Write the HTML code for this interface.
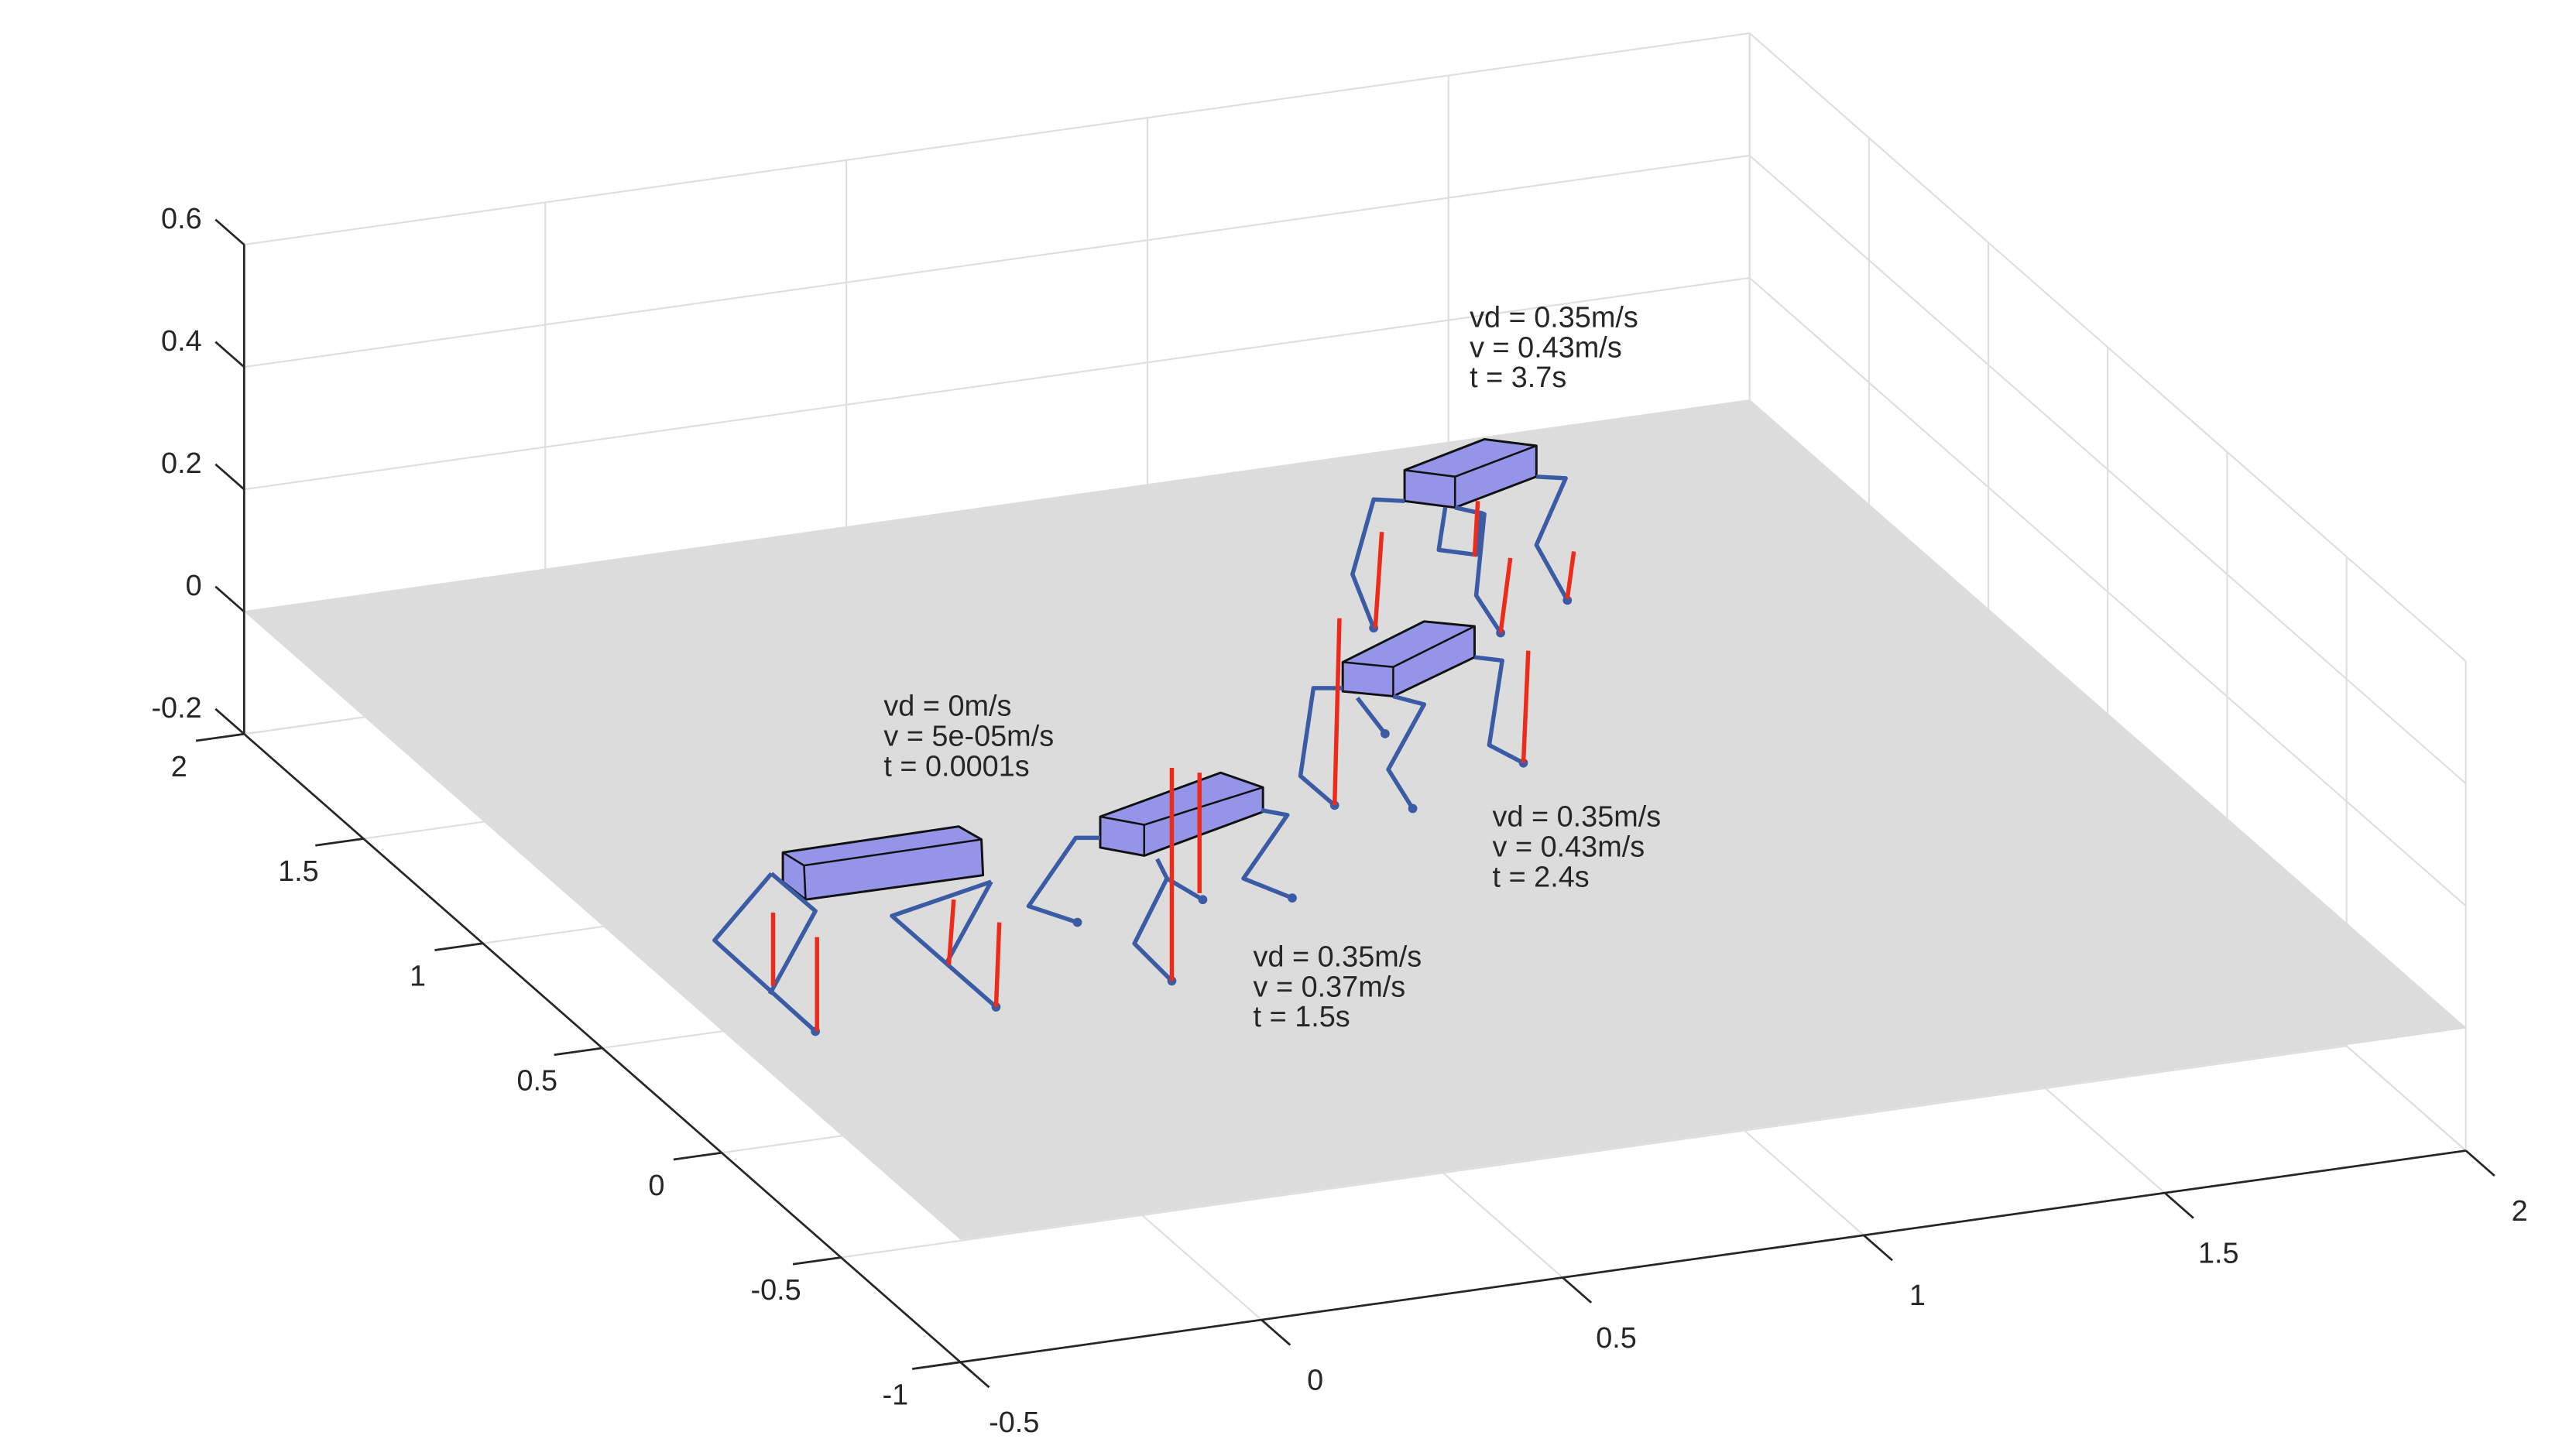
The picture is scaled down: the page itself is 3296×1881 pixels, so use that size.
<!DOCTYPE html>
<html><head><meta charset="utf-8">
<style>
html,body{margin:0;padding:0;background:#fff;}
svg{display:block;}
text{font-family:"Liberation Sans",Arial,sans-serif;fill:#262626;}
</style></head>
<body>
<svg id="chart" width="3296" height="1881" viewBox="0 0 1568 895" preserveAspectRatio="none" xmlns="http://www.w3.org/2000/svg">
<g id="grid"></g>
<polygon id="floor" fill="#dcdcdc" stroke="none"></polygon>
<g id="axes"></g>
<g id="robots"></g>
<g id="labels"></g>
</svg>
<script>
const xTicks=[-0.5,0,0.5,1,1.5,2];
const xTickLabels=["-0.5","0","0.5","1","1.5","2"];
const yTicks=[-1,-0.5,0,0.5,1,1.5,2];
const yTickLabels=["-1","-0.5","0","0.5","1","1.5","2"];
const zTicks=[-0.2,0,0.2,0.4,0.6];
const zTickLabels=["-0.2","0","0.2","0.4","0.6"];
const annotations=[
 {lines:["vd = 0m/s","v = 5e-05m/s","t = 0.0001s"],at:[543,440]},
 {lines:["vd = 0.35m/s","v = 0.37m/s","t = 1.5s"],at:[770,594]},
 {lines:["vd = 0.35m/s","v = 0.43m/s","t = 2.4s"],at:[917,508]},
 {lines:["vd = 0.35m/s","v = 0.43m/s","t = 3.7s"],at:[903,201]}
];
// robot drawings (screen-space sketches)
const robotBodies=[
 {outline:[[481,524],[589,508],[603,516],[604,538],[495,553],[481,542]],edges:[[[481,524],[494,532],[603,516]],[[494,532],[495,553]]]},
 {outline:[[676,502],[750,475],[776,484],[776,499],[703,526],[676,521]],edges:[[[676,502],[703,507],[776,484]],[[703,507],[703,526]]]},
 {outline:[[825,407],[875,382],[906,385],[906,404],[856,428],[825,425]],edges:[[[825,407],[856,410],[906,385]],[[856,410],[856,428]]]},
 {outline:[[863,289],[912,270],[944,274],[944,293],[894,312],[863,308]],edges:[[[863,289],[894,293],[944,274]],[[894,293],[894,312]]]}
];
const robotLegs=[
 [[474,537],[439,578],[501,634]],[[474,537],[501,560],[473,611]],[[609,542],[548,563],[612,619]],[[609,542],[581,593]],
 [[676,515],[661,515],[632,557],[662,567]],[[711,528],[717,540],[697,580],[720,603]],[[717,540],[739,553]],[[775,498],[791,501],[764,540],[794,552]],
 [[825,423],[807,423],[799,477],[820,495]],[[834,429],[851,451]],[[856,428],[875,433],[853,473],[868,497]],[[906,404],[923,406],[915,458],[936,469]],
 [[863,308],[844,307],[831,353],[844,386]],[[888,312],[884,338],[907,341],[910,314]],[[894,312],[912,316],[907,366],[922,389]],[[944,293],[962,294],[944,335],[963,369]]
];
const legFeet=[[501,634],[612,619],[662,567],[720,603],[739,553],[794,552],[820,495],[851,451],[868,497],[936,469],[844,386],[922,389],[963,369]];
const forceLines=[
 [[475,561],[475,606]],[[502,576],[502,634]],[[586,553],[583,593]],[[614,567],[612,619]],
 [[720,472],[720,603]],[[737,475],[737,549]],
 [[823,380],[820,495]],[[939,400],[936,469]],
 [[849,327],[845,386]],[[908,308],[906,342]],[[928,343],[922,389]],[[967,339],[963,368]]
];

const NS="http://www.w3.org/2000/svg";
const O=[150,376],EX=[370,-52],EY=[-146.7,-128.7],EZ=[0,-376];
function P(x,y,z){const a=x+0.5,b=y-2;return [O[0]+a*EX[0]+b*EY[0]+z*EZ[0],O[1]+a*EX[1]+b*EY[1]+z*EZ[1]];}
function mk(tag,attrs,parent){const e=document.createElementNS(NS,tag);for(const k in attrs)e.setAttribute(k,attrs[k]);parent.appendChild(e);return e;}
function line(p,q,st,w,parent){return mk('line',{x1:p[0],y1:p[1],x2:q[0],y2:q[1],stroke:st,'stroke-width':w},parent);}
const grid=document.getElementById('grid'),axes=document.getElementById('axes'),rob=document.getElementById('robots'),lab=document.getElementById('labels');
const gc="#dedede";
// floor grid at z=-0.2
xTicks.forEach(x=>{const l=line(P(x,-1,-0.2),P(x,2,-0.2),gc,1,grid);});
yTicks.forEach(y=>{const l=line(P(-0.5,y,-0.2),P(2,y,-0.2),gc,1,grid);});
// back walls
xTicks.forEach(x=>{const l=line(P(x,2,-0.2),P(x,2,0.6),gc,1,grid);});
yTicks.forEach(y=>{const l=line(P(2,y,-0.2),P(2,y,0.6),gc,1,grid);});
zTicks.forEach(z=>{let l=line(P(-0.5,2,z),P(2,2,z),gc,1,grid);
 l=line(P(2,2,z),P(2,-1,z),gc,1,grid);});
// floor
document.getElementById('floor').setAttribute('points',[P(-0.5,2,0),P(2,2,0),P(2,-1,0),P(-0.5,-1,0)].map(p=>p.join(',')).join(' '));
// axes
const ac="#262626";
let a=line(P(-0.5,2,-0.2),P(-0.5,2,0.6),ac,1.3,axes);
a=line(P(-0.5,2,-0.2),P(-0.5,-1.05,-0.2),ac,1.3,axes);
a=line(P(-0.55,-1,-0.2),P(2,-1,-0.2),ac,1.3,axes);
xTicks.forEach((x,i)=>{const p=P(x,-1,-0.2),q=P(x,-1.12,-0.2);const t=line(p,q,ac,1.3,axes);
 const tx=mk('text',{x:p[0]+33,y:p[1]+43,'font-size':18,'text-anchor':'middle'},axes);tx.textContent=xTickLabels[i];});
yTicks.forEach((y,i)=>{const p=P(-0.5,y,-0.2),q=P(-0.58,y,-0.2);const t=line(p,q,ac,1.3,axes);
 const tx=mk('text',{x:p[0]-40,y:p[1]+26,'font-size':18,'text-anchor':'middle'},axes);tx.textContent=yTickLabels[i];});
zTicks.forEach((z,i)=>{const p=P(-0.5,2,z),q=P(-0.5,2.12,z);const t=line(p,q,ac,1.3,axes);
 const tx=mk('text',{x:p[0]-26,y:p[1]-10,'font-size':18,'text-anchor':'end'},axes);tx.textContent=zTickLabels[i];});
// robots
robotBodies.forEach(b=>{
 const g=mk('polygon',{points:b.outline.map(p=>p.join(',')).join(' '),fill:'#8f8fe8','fill-opacity':0.95,stroke:'#111','stroke-width':1.4,'stroke-linejoin':'round'},rob);
 
 b.edges.forEach(e=>{const pl=mk('polyline',{points:e.map(p=>p.join(',')).join(' '),fill:'none',stroke:'#111','stroke-width':1.2},rob);});
});
robotLegs.forEach(l=>{const pl=mk('polyline',{points:l.map(p=>p.join(',')).join(' '),fill:'none',stroke:'#3b5ba5','stroke-width':2.6,'stroke-linejoin':'round'},rob);});
legFeet.forEach(f=>{const c=mk('circle',{cx:f[0],cy:f[1],r:2.8,fill:'#3b5ba5'},rob);});
forceLines.forEach(f=>{const l=line(f[0],f[1],'#ee2a1a',2.6,rob);});
// annotations
annotations.forEach(an=>{an.lines.forEach((s,i)=>{const t=mk('text',{x:an.at[0],y:an.at[1]+i*18.5,'font-size':18,fill:'#111'},lab);t.textContent=s;});});
</script>
</body></html>
